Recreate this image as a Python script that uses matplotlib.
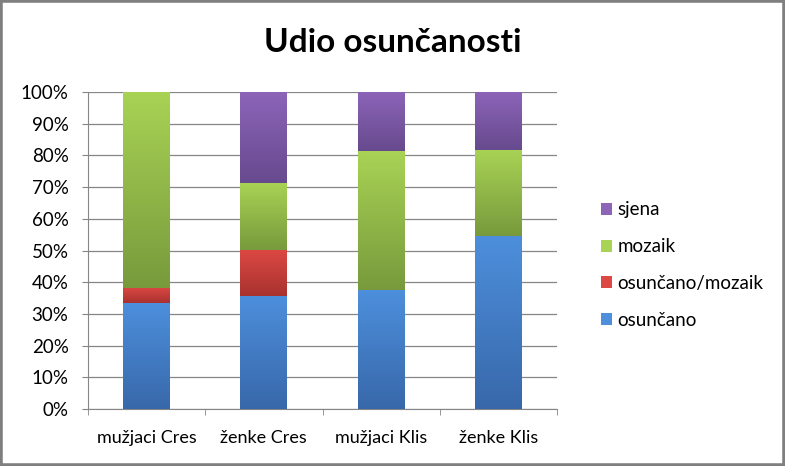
import matplotlib.pyplot as plt
import numpy as np
from matplotlib.colors import LinearSegmentedColormap
from matplotlib.patches import Rectangle

# Podaci
kategorije = ['mužjaci Cres', 'ženke Cres', 'mužjaci Klis', 'ženke Klis']
osuncano = [33.3, 35.7, 37.5, 54.5]
osuncano_mozaik = [4.8, 14.3, 0.0, 0.0]
mozaik = [61.9, 21.4, 43.75, 27.3]
sjena = [0.0, 28.6, 18.75, 18.2]

serije = ['osunčano', 'osunčano/mozaik', 'mozaik', 'sjena']
vrijednosti = [osuncano, osuncano_mozaik, mozaik, sjena]
# (svijetla gore, tamna dolje)
boje = [('#4d8fdc', '#3868aa'), ('#dc4843', '#a8322f'),
        ('#a8d355', '#789a3c'), ('#8c64b8', '#674a8e')]

plt.rcParams['font.family'] = ['Lato', 'DejaVu Sans']

fig = plt.figure(figsize=(7.85, 4.66), dpi=100)
ax = fig.add_axes([88/785, 1 - 409/466, 469/785, 317/466])

x = np.arange(len(kategorije))
sirina = 0.4
dno = np.zeros(len(kategorije))
grad = np.linspace(1, 0, 256).reshape(-1, 1)
for ime, v, (svj, tam) in zip(serije, vrijednosti, boje):
    v = np.array(v)
    bars = ax.bar(x, v, sirina, bottom=dno, color=svj, label=ime, linewidth=0)
    cmap = LinearSegmentedColormap.from_list(ime, [tam, svj])
    for b in bars:
        if b.get_height() <= 0:
            continue
        bx, by = b.get_x(), b.get_y()
        ax.imshow(grad, cmap=cmap, aspect='auto', zorder=3,
                  extent=[bx, bx + b.get_width(), by, by + b.get_height()],
                  origin='upper')
    dno = dno + v

ax.set_xlim(-0.5, len(kategorije) - 0.5)
ax.set_ylim(0, 100)
ax.set_yticks(np.arange(0, 101, 10))
ax.set_yticklabels([f'{t}%' for t in range(0, 101, 10)])
ax.set_xticks(x)
ax.set_xticklabels(kategorije)
ax.set_xticks(np.arange(-0.5, len(kategorije)), minor=True)
ax.tick_params(axis='x', which='major', length=0, pad=15, labelsize=13)
ax.tick_params(axis='x', which='minor', length=4, color='#868686', direction='out')
ax.tick_params(axis='y', length=4, color='#868686', labelsize=13.5, pad=10)
ax.yaxis.grid(True, color='#868686', linewidth=0.9)
ax.set_axisbelow(True)
for s in ['top', 'right']:
    ax.spines[s].set_visible(False)
for s in ['left', 'bottom']:
    ax.spines[s].set_color('#868686')

fig.text(0.5, 1 - 42/466, 'Udio osunčanosti', ha='center', va='center',
         fontsize=24, fontweight='bold')

h, l = ax.get_legend_handles_labels()
leg = fig.legend(h[::-1], l[::-1], loc='center left',
                 bbox_to_anchor=(584/785, 1 - 265/466), frameon=False,
                 fontsize=13.5, handlelength=0.6, handleheight=0.6,
                 handletextpad=0.3, labelspacing=1.05)

fig.patches.append(Rectangle((0, 0), 1, 1, transform=fig.transFigure,
                             fill=False, edgecolor='#7f7f7f', linewidth=4))

fig.savefig('out.png', dpi=100)
